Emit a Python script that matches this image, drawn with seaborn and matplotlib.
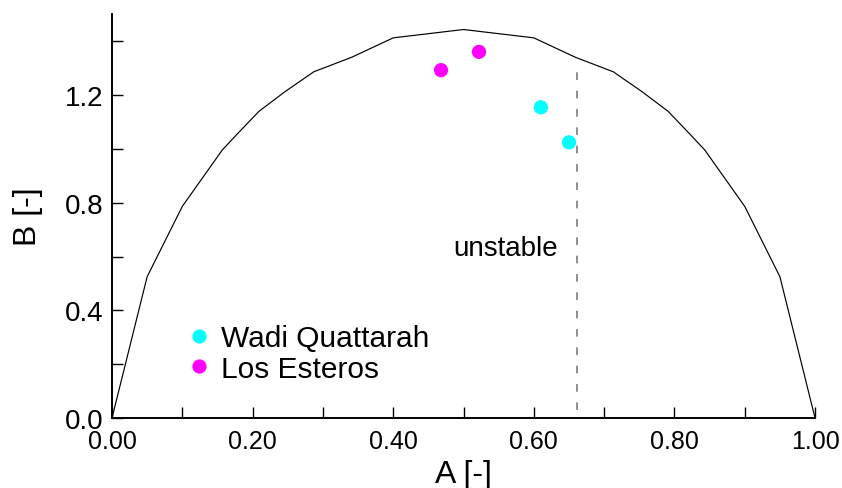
import matplotlib
matplotlib.use("Agg")
import matplotlib.pyplot as plt
import numpy as np
import pandas as pd
import seaborn as sns

# Stability envelope (polyline vertices)
env_a = [0.0, 0.05, 0.10, 0.157, 0.18, 0.209, 0.246, 0.287, 0.341, 0.40, 0.50,
         0.60, 0.659, 0.713, 0.754, 0.791, 0.820, 0.843, 0.90, 0.95, 1.0]
env_b = [0.0, 0.525, 0.786, 0.996, 1.060, 1.139, 1.212, 1.286, 1.340, 1.412, 1.443,
         1.412, 1.340, 1.286, 1.212, 1.139, 1.060, 0.996, 0.786, 0.525, 0.0]

# Observations
site = ["Wadi Quattarah", "Wadi Quattarah", "Los Esteros", "Los Esteros"]
obs_a = [0.610, 0.650, 0.468, 0.522]
obs_b = [1.154, 1.024, 1.292, 1.360]
site_colors = {"Wadi Quattarah": "#00FFFF", "Los Esteros": "#FF00FF"}

unstable_a = 0.661
unstable_top = 1.31

sns.set_theme(style="ticks")
plt.rcParams["font.family"] = ["Liberation Sans", "DejaVu Sans"]
plt.rcParams.update({"text.color": "black", "axes.labelcolor": "black",
                     "xtick.color": "black", "ytick.color": "black"})

fig = plt.figure(figsize=(8.42, 4.89), dpi=100)
ax = fig.add_axes([0.133, 0.143, 0.835, 0.826])

env = pd.DataFrame({"A": env_a, "B": env_b})
sns.lineplot(data=env, x="A", y="B", sort=False, estimator=None,
             color="black", lw=0.85, ax=ax)

ax.plot([unstable_a, unstable_a], [0.03, unstable_top], ls=(0, (5, 7)),
        color="#707070", lw=1.1)
ax.text(0.634, 0.605, "unstable", ha="right", va="baseline", fontsize=20,
        color="black")

obs = pd.DataFrame({"A": obs_a, "B": obs_b, "site": site})
sns.scatterplot(data=obs, x="A", y="B", hue="site", palette=site_colors,
                hue_order=["Wadi Quattarah", "Los Esteros"],
                s=105, linewidth=0, ax=ax, zorder=3)

xt = np.arange(0, 1.01, 0.1)
yt = np.arange(0, 1.41, 0.2)
ax.set_xlim(0, 1)
ax.set_ylim(0, 1.5)
ax.set_xticks(xt)
ax.set_xticklabels([f"{v:.2f}" if i % 2 == 0 else "" for i, v in enumerate(xt)],
                   fontsize=18)
ax.set_yticks(yt)
ax.set_yticklabels([f"{v:.1f}" if i % 2 == 0 else "" for i, v in enumerate(yt)],
                   fontsize=20)
ax.tick_params(direction="in", length=8, width=1.0, color="black",
               labelcolor="black")
ax.tick_params(axis="x", pad=8)
ax.tick_params(axis="y", pad=6)

for side in ["top", "right"]:
    ax.spines[side].set_visible(False)
for side in ["left", "bottom"]:
    ax.spines[side].set_linewidth(1.4)
    ax.spines[side].set_color("black")

ax.set_xlabel("A [-]", fontsize=23, labelpad=4)
ax.set_ylabel("B [-]", fontsize=23, labelpad=16)

leg = ax.legend(loc="lower left", bbox_to_anchor=(0.0857, 0.058), frameon=False,
                fontsize=21.5, handlelength=1.0, handletextpad=0.23,
                labelspacing=0.08, markerscale=1.0, borderaxespad=0)
for t in leg.get_texts():
    t.set_color("black")

ax.set_facecolor("white")
fig.patch.set_facecolor("white")
fig.savefig("out.png", dpi=100)
